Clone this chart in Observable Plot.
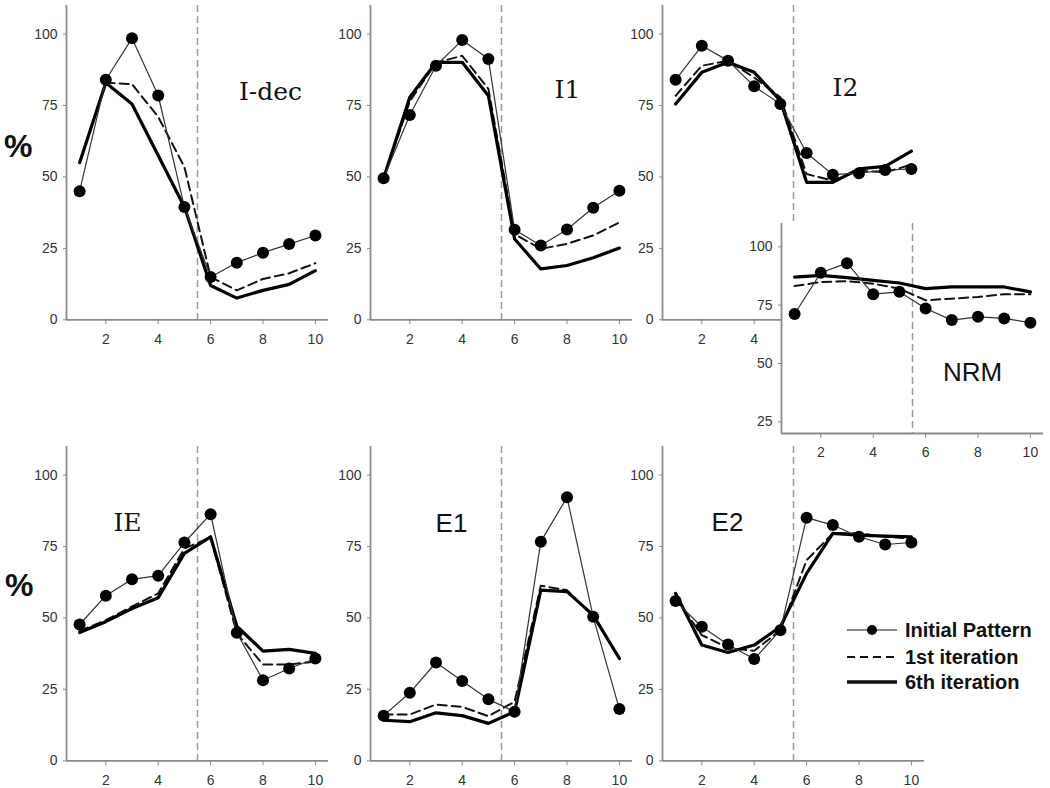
<!DOCTYPE html>
<html>
<head>
<meta charset="utf-8">
<script src="https://cdn.jsdelivr.net/npm/d3@7"></script>
<script src="https://cdn.jsdelivr.net/npm/@observablehq/plot@0.6"></script>
<style>
  html, body { margin: 0; padding: 0; background: #fff; overflow: hidden; }
  #wrap { position: relative; width: 1050px; height: 788px; background: #fff; }
  .pct { position: absolute; font: bold 32px "Liberation Sans", Arial, sans-serif; color: #111; }
  svg.panel { position: absolute; }
</style>
</head>
<body>
<div id="wrap">
  <div class="pct" style="left:4px; top:128px;">%</div>
  <div class="pct" style="left:5px; top:567px;">%</div>
</div>
<script>
// ---------- data ----------
const trials = [1, 2, 3, 4, 5, 6, 7, 8, 9, 10];
const xTicks = [2, 4, 6, 8, 10];
const yTicks = [0, 25, 50, 75, 100];
const nrmTicks = [25, 50, 75, 100];
const boundary = 5.5;
const seriesNames = ["Initial Pattern", "1st iteration", "6th iteration"];

const idecInit = [45, 84, 98.5, 78.5, 39.5, 15, 20, 23.5, 26.5, 29.5];
const idecIt1  = [55, 83, 82.5, 71, 53.5, 15, 10.3, 14.3, 16.3, 19.8];
const idecIt6  = [55, 83, 75.5, 57.5, 39.5, 12, 7.6, 10.3, 12.4, 17.2];

const i1Init = [49.5, 71.7, 88.9, 97.9, 91.3, 31.5, 26, 31.6, 39.2, 45.2];
const i1It1  = [49.5, 76.5, 90, 92.4, 80.8, 30, 24.8, 26.6, 29.5, 34.1];
const i1It6  = [49.5, 77.9, 90.1, 90.1, 78.4, 28.3, 17.8, 19, 21.7, 25.1];

const i2Init = [84, 95.9, 90.7, 81.7, 75.5, 58.4, 50.8, 51.3, 52.4, 52.8];
const i2It1  = [78.4, 88.9, 90.7, 84.8, 77.9, 51, 48.7, 52.2, 51.6, 54.3];
const i2It6  = [75.5, 86.6, 90.1, 86.6, 76.7, 48.1, 48.1, 52.8, 53.7, 59];

const nrmInit = [71.2, 88.9, 93, 79.7, 80.7, 73.6, 68.6, 70, 69.3, 67.5];
const nrmIt1  = [83.2, 84.9, 85.3, 84.2, 82.1, 77.1, 77.8, 78.5, 79.7, 79.7];
const nrmIt6  = [87, 87.8, 86.8, 85.6, 84.5, 82.1, 82.8, 82.8, 82.8, 80.7];

const ieInit = [47.7, 57.8, 63.5, 64.8, 76.4, 86.3, 44.8, 28.2, 32.3, 35.8];
const ieIt1  = [45.5, 49.2, 54, 58.6, 74.3, 78.2, 44.6, 33.7, 33.7, 34.7];
const ieIt6  = [44.9, 48.7, 53.3, 57.1, 72.6, 78.4, 47.1, 38.4, 39, 37.6];

const e1Init = [15.8, 23.8, 34.4, 27.9, 21.5, 17.2, 76.7, 92.2, 50.4, 18.1];
const e1It1  = [16.2, 16.2, 19.7, 18.9, 15.6, 20.7, 61.3, 59.7, 50.6, 36.1];
const e1It6  = [14.2, 13.7, 16.8, 15.8, 13.1, 17.2, 59.7, 59.2, 51, 35.8];

const e2Init = [55.9, 46.9, 40.7, 35.6, 45.7, 85.1, 82.5, 78.4, 75.7, 76.4];
const e2It1  = [57, 44, 39.5, 38.5, 45.7, 70.2, 79.6, 79.6, 78.4, 77.8];
const e2It6  = [58.6, 40.5, 37.9, 40.5, 46.9, 65.6, 79.6, 79, 78.6, 78.4];

// ---------- drawing ----------
const wrap = document.getElementById("wrap");
const AX = "#8a8a8a", TXT = "#333";

function panel(o) {
  const yDom = o.yDomain || [0, 110];
  const ticksY = o.yTicks || yTicks;
  const fh = o.frameH || 314.3;
  const ml = 50, mr = 8, mt = 5, mb = 40;
  const marks = [];
  if (o.whiteFrame) marks.push(Plot.frame({fill: "white", stroke: "none"}));
  marks.push(
    Plot.ruleX([boundary], {stroke: "#9a9a9a", strokeWidth: 1.5, strokeDasharray: "7,4"}),
    Plot.lineY(o.it1, {x: trials, stroke: "#111", strokeWidth: 2, strokeDasharray: "9,5"}),
    Plot.lineY(o.it6, {x: trials, stroke: "#000", strokeWidth: 3.2}),
    Plot.lineY(o.init, {x: trials, stroke: "#333", strokeWidth: 1.2}),
    Plot.dotY(o.init, {x: trials, r: 6, fill: "#000", stroke: "none"}),
    Plot.ruleX([0.5], {stroke: AX, strokeWidth: 1.8}),
    Plot.ruleY([yDom[0]], {stroke: AX, strokeWidth: 1.8}),
    Plot.axisY({ticks: ticksY, tickSize: 3, tickPadding: 6, stroke: AX, fill: TXT, label: null}),
    Plot.axisX({ticks: xTicks, tickSize: 5, tickPadding: 9, stroke: AX, fill: TXT, label: null}),
    Plot.text([o.name], {
      frameAnchor: "top-left", dx: o.lx, dy: o.ly, textAnchor: "middle",
      fontSize: o.serif ? 25 : 26,
      fontFamily: o.serif ? "DejaVu Serif, serif" : "Liberation Sans, Arial, sans-serif",
      fill: "#111"
    })
  );
  const svg = Plot.plot({
    width: 262 + ml + mr,
    height: fh + mt + mb,
    marginLeft: ml, marginRight: mr, marginTop: mt, marginBottom: mb,
    x: {domain: [0.5, 10.5]},
    y: {domain: yDom},
    style: {background: "none", fontSize: "14px", fontFamily: "Liberation Sans, Arial, sans-serif", overflow: "visible"},
    marks
  });
  svg.classList.add("panel");
  svg.style.left = (o.fx - ml) + "px";
  svg.style.top = (o.fy - mt) + "px";
  wrap.appendChild(svg);
}

const colX = [65.7, 369.7, 662];
const rowY = [5, 446.4];

panel({name: "I-dec", init: idecInit, it1: idecIt1, it6: idecIt6, fx: colX[0], fy: rowY[0], lx: 204, ly: 77, serif: true});
panel({name: "I1", init: i1Init, it1: i1It1, it6: i1It6, fx: colX[1], fy: rowY[0], lx: 197, ly: 75, serif: true});
panel({name: "I2", init: i2Init, it1: i2It1, it6: i2It6, fx: colX[2], fy: rowY[0], lx: 183, ly: 73, serif: true});
panel({name: "IE", init: ieInit, it1: ieIt1, it6: ieIt6, fx: colX[0], fy: rowY[1], lx: 61, ly: 67, serif: true});
panel({name: "E1", init: e1Init, it1: e1It1, it6: e1It6, fx: colX[1], fy: rowY[1], lx: 81, ly: 67, serif: false});
panel({name: "E2", init: e2Init, it1: e2It1, it6: e2It6, fx: colX[2], fy: rowY[1], lx: 65, ly: 66, serif: false});
panel({name: "NRM", init: nrmInit, it1: nrmIt1, it6: nrmIt6, fx: 780.7, fy: 223, lx: 191, ly: 139, serif: false,
       yDomain: [20, 110], yTicks: nrmTicks, frameH: 210, whiteFrame: true});

// ---------- legend ----------
const ns = "http://www.w3.org/2000/svg";
const leg = document.createElementNS(ns, "svg");
leg.setAttribute("width", 220); leg.setAttribute("height", 90);
leg.style.position = "absolute"; leg.style.left = "840px"; leg.style.top = "612px";
const rowsY = [18, 45, 70];
const styles = [
  {w: 1.2, dash: null, dot: true},
  {w: 2, dash: "8,5", dot: false},
  {w: 3.5, dash: null, dot: false}
];
seriesNames.forEach((name, i) => {
  const l = document.createElementNS(ns, "line");
  l.setAttribute("x1", 7); l.setAttribute("x2", 57);
  l.setAttribute("y1", rowsY[i]); l.setAttribute("y2", rowsY[i]);
  l.setAttribute("stroke", "#111"); l.setAttribute("stroke-width", styles[i].w);
  if (styles[i].dash) l.setAttribute("stroke-dasharray", styles[i].dash);
  leg.appendChild(l);
  if (styles[i].dot) {
    const c = document.createElementNS(ns, "circle");
    c.setAttribute("cx", 32); c.setAttribute("cy", rowsY[i]); c.setAttribute("r", 5);
    c.setAttribute("fill", "#000");
    leg.appendChild(c);
  }
  const t = document.createElementNS(ns, "text");
  t.setAttribute("x", 65); t.setAttribute("y", rowsY[i] + 7);
  t.setAttribute("font-family", "Liberation Sans, Arial, sans-serif");
  t.setAttribute("font-weight", "bold"); t.setAttribute("font-size", 20);
  t.setAttribute("fill", "#111");
  t.textContent = name;
  leg.appendChild(t);
});
wrap.appendChild(leg);
</script>
</body>
</html>
